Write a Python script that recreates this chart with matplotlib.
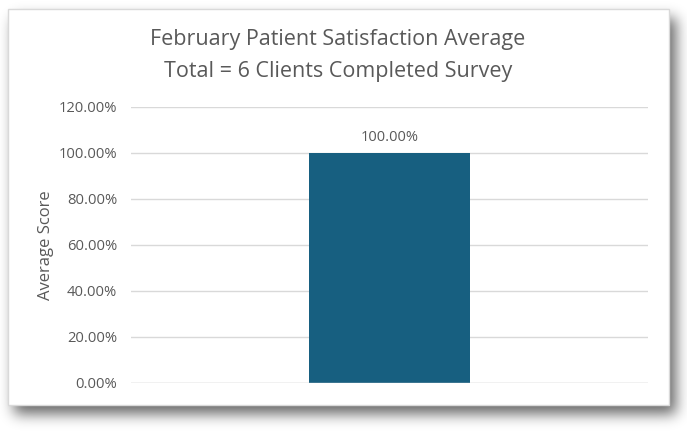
"""February patient satisfaction average bar chart."""

import matplotlib

matplotlib.use("Agg")
import matplotlib.pyplot as plt
import numpy as np
from matplotlib.patches import Rectangle
from matplotlib.ticker import FuncFormatter, MultipleLocator

categories = [""]
scores = [1.0]
bar_labels = ["100.00%"]

TEXT = "#595959"
BAR = "#175F80"
GRID = "#D9D9D9"

plt.rcParams["font.family"] = ["Open Sans", "DejaVu Sans"]

W, H = 687, 433
fig = plt.figure(figsize=(W / 100, H / 100), dpi=100)


def gaussian_blur(img, sigma):
    r = int(3 * sigma)
    k = np.exp(-0.5 * (np.arange(-r, r + 1) / sigma) ** 2)
    k /= k.sum()
    img = np.apply_along_axis(lambda m: np.convolve(m, k, mode="same"), 0, img)
    return np.apply_along_axis(lambda m: np.convolve(m, k, mode="same"), 1, img)


# soft drop shadow behind the chart box
mask = np.zeros((H, W))
mask[18:414, 14:676] = 1.0
shadow = gaussian_blur(mask, 7.0)
rgba = np.zeros((H, W, 4))
rgba[..., 3] = shadow * 0.6
bg = fig.add_axes([0, 0, 1, 1], zorder=0)
bg.imshow(rgba, aspect="auto", interpolation="bilinear")
bg.axis("off")

box = fig.add_axes([0, 0, 1, 1], zorder=1)
box.set_xlim(0, W)
box.set_ylim(H, 0)
box.axis("off")
box.add_patch(Rectangle((7.5, 8.5), 661, 396, facecolor="white",
                        edgecolor=GRID, linewidth=1.0))

ax = fig.add_axes([131 / W, (H - 383) / H, 517 / W, 276 / H], zorder=2)
ax.patch.set_visible(False)

bars = ax.bar(range(len(categories)), scores, width=0.313, color=BAR, zorder=3)
for bar, lab in zip(bars, bar_labels):
    ax.annotate(lab, (bar.get_x() + bar.get_width() / 2, bar.get_height()),
                xytext=(0, 6), textcoords="offset points", ha="center",
                va="bottom", fontsize=10.5, color=TEXT)

ax.set_xlim(-0.5, 0.5)
ax.set_ylim(0, 1.2)
ax.yaxis.set_major_locator(MultipleLocator(0.2))
ax.yaxis.set_major_formatter(FuncFormatter(lambda v, _: f"{v * 100:.2f}%"))
ax.set_xticks([])
ax.tick_params(axis="y", length=0, labelsize=10.6, labelcolor=TEXT, pad=10)
ax.grid(axis="y", color=GRID, linewidth=1.0, zorder=0)
for s in ax.spines.values():
    s.set_visible(False)
ax.axhline(0, color=GRID, linewidth=1.0, zorder=4)

ax.set_ylabel("Average Score", fontsize=12, color=TEXT, labelpad=3)

fig.text(338 / W, 1 - 40 / H, "February Patient Satisfaction Average",
         ha="center", va="center", fontsize=15.5, color=TEXT)
fig.text(338 / W, 1 - 71 / H, "Total = 6 Clients Completed Survey",
         ha="center", va="center", fontsize=15.5, color=TEXT)

fig.savefig("out.png", dpi=100, facecolor="white")
